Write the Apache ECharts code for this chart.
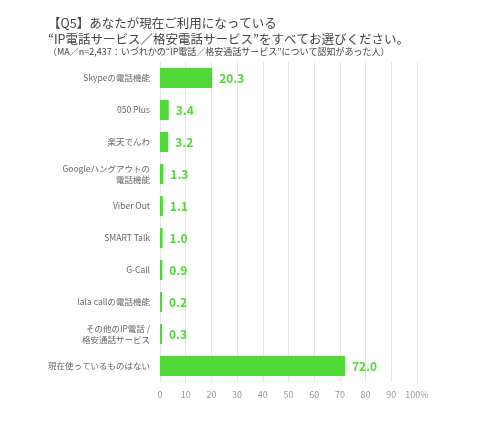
<!DOCTYPE html><html><head><meta charset="utf-8"><script src="https://cdn.jsdelivr.net/npm/echarts@6/dist/echarts.min.js"></script>
<style>body{margin:0}#c{width:480px;height:424px}</style></head><body><div id="c"></div><script>
const categories=["Skypeの電話機能","050 Plus","楽天でんわ","Googleハングアウトの\n電話機能","Viber Out","SMART Talk","G-Call","lala callの電話機能","その他のIP電話 /\n格安通話サービス","現在使っているものはない"];
const values=[20.3,3.4,3.2,1.3,1.1,1.0,0.9,0.2,0.3,72.0];
const ticks=[0,10,20,30,40,50,60,70,80,90,100];
const ch=echarts.init(document.getElementById('c'));
const F='"Noto Sans CJK JP",sans-serif';
ch.setOption({
 title:[{text:"【Q5】あなたが現在ご利用になっている\n“IP電話サービス／格安電話サービス”をすべてお選びください。",left:43,top:10,textStyle:{fontSize:12.5,fontWeight:'normal',color:'#444',lineHeight:16,fontFamily:F}},
 {text:"（MA／n=2,437：いづれかの“IP電話／格安通話サービス”について認知があった人）",left:43,top:42,textStyle:{fontSize:9,fontWeight:'normal',color:'#444',fontFamily:F}}],
 grid:{left:160,right:63,top:62,bottom:42},
 xAxis:{type:'value',min:0,max:100,interval:10,axisLine:{show:false},axisTick:{show:false},
  splitLine:{lineStyle:{color:'#e6e6e6'}},
  axisLabel:{color:'#999',fontSize:9,fontFamily:F,formatter:v=>v===100?'100%':String(v)}},
 yAxis:{type:'category',data:categories,inverse:true,axisLine:{show:false},axisTick:{show:false},
  axisLabel:{color:'#666',fontSize:8.5,fontFamily:F,lineHeight:11,margin:10}},
 series:[{type:'bar',data:values,barWidth:20,barMinHeight:2,itemStyle:{color:'#4fd836'},
  label:{show:true,position:'right',color:'#4fd836',fontWeight:'bold',fontSize:12,fontFamily:F,formatter:p=>p.value.toFixed(1),distance:7}}]
});
</script></body></html>
